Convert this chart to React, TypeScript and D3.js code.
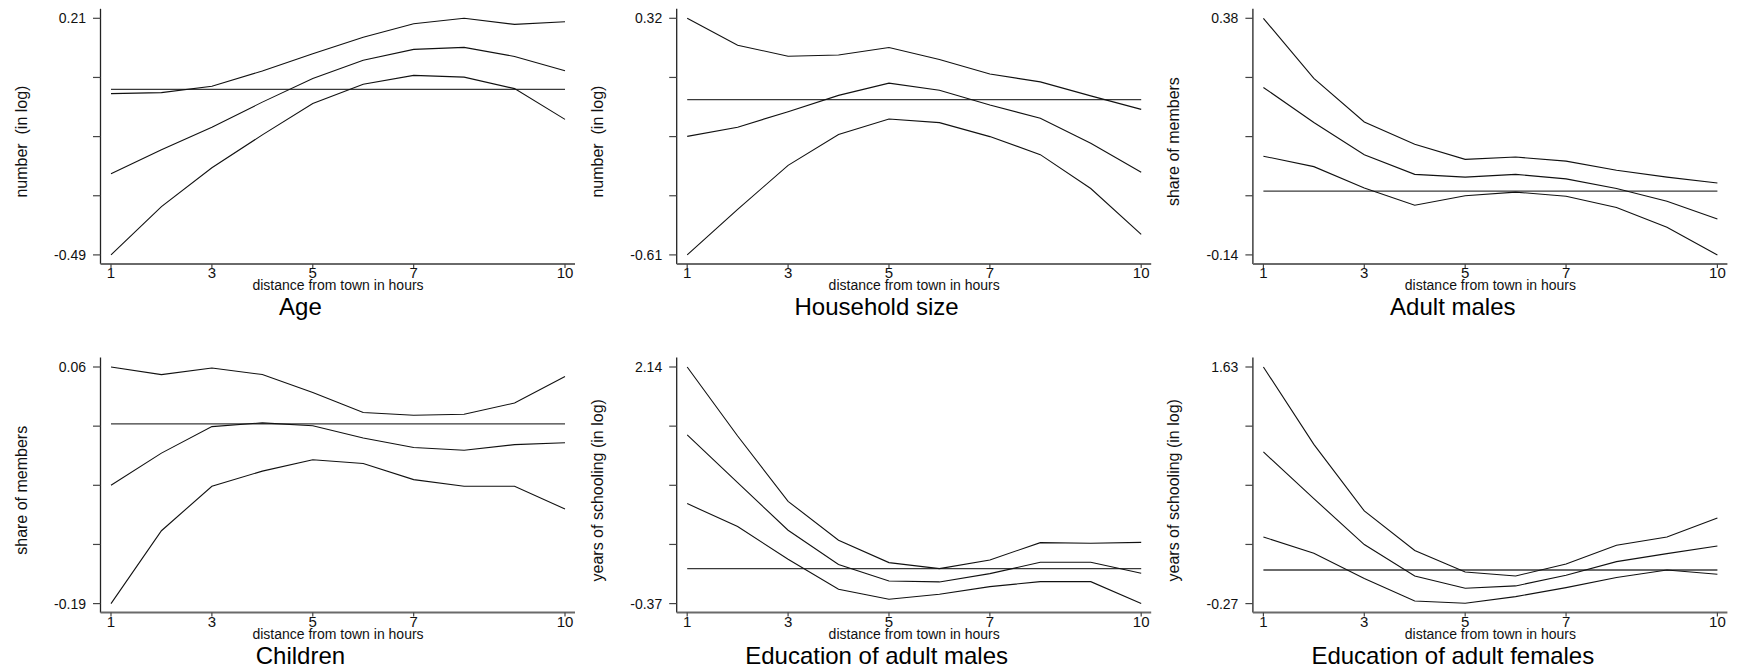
import React, { useEffect } from "react";
import * as d3 from "d3";

// ---------- DATA ----------
const distance = [1, 2, 3, 4, 5, 6, 7, 8, 9, 10];
const xTickValues = [1, 3, 5, 7, 10];
const xAxisTitle = "distance from town in hours";

const ageUpper = [-0.013, -0.010, 0.009, 0.054, 0.105, 0.154, 0.194, 0.210, 0.192, 0.200];
const ageEstimate = [-0.250, -0.179, -0.112, -0.038, 0.032, 0.086, 0.118, 0.124, 0.097, 0.055];
const ageLower = [-0.490, -0.347, -0.232, -0.135, -0.042, 0.015, 0.041, 0.036, 0.002, -0.089];

const hhUpper = [0.320, 0.214, 0.171, 0.176, 0.205, 0.158, 0.101, 0.070, 0.015, -0.038];
const hhEstimate = [-0.144, -0.108, -0.047, 0.017, 0.065, 0.037, -0.021, -0.073, -0.171, -0.285];
const hhLower = [-0.610, -0.431, -0.258, -0.137, -0.076, -0.090, -0.145, -0.216, -0.349, -0.529];

const amUpper = [0.380, 0.248, 0.152, 0.103, 0.070, 0.075, 0.066, 0.046, 0.031, 0.018];
const amEstimate = [0.228, 0.151, 0.080, 0.037, 0.031, 0.037, 0.027, 0.006, -0.022, -0.061];
const amLower = [0.077, 0.054, 0.007, -0.031, -0.010, -0.002, -0.011, -0.036, -0.079, -0.140];

const chUpper = [0.060, 0.052, 0.059, 0.052, 0.033, 0.012, 0.009, 0.010, 0.022, 0.050];
const chEstimate = [-0.065, -0.031, -0.003, 0.001, -0.002, -0.015, -0.025, -0.028, -0.022, -0.020];
const chLower = [-0.190, -0.113, -0.066, -0.050, -0.038, -0.042, -0.059, -0.066, -0.066, -0.090];

const emUpper = [2.140, 1.408, 0.715, 0.302, 0.065, 0.001, 0.093, 0.277, 0.270, 0.280];
const emEstimate = [1.419, 0.913, 0.408, 0.044, -0.130, -0.140, -0.052, 0.068, 0.068, -0.048];
const emLower = [0.691, 0.447, 0.100, -0.218, -0.324, -0.271, -0.190, -0.137, -0.137, -0.370];

const efUpper = [1.630, 1.009, 0.474, 0.156, -0.016, -0.048, 0.048, 0.198, 0.265, 0.418];
const efEstimate = [0.948, 0.573, 0.204, -0.048, -0.147, -0.128, -0.043, 0.067, 0.131, 0.193];
const efLower = [0.265, 0.134, -0.069, -0.249, -0.267, -0.214, -0.142, -0.061, 0.000, -0.034];

const panelTitles = ["Age", "Household size", "Adult males", "Children", "Education of adult males", "Education of adult females"];
const yAxisTitles = ["number  (in log)", "number  (in log)", "share of members", "share of members", "years of schooling (in log)", "years of schooling (in log)"];
const yMinLabels = ["-0.49", "-0.61", "-0.14", "-0.19", "-0.37", "-0.27"];
const yMaxLabels = ["0.21", "0.32", "0.38", "0.06", "2.14", "1.63"];
const referenceValue = 0;

const panelSeries = [
  [ageUpper, ageEstimate, ageLower],
  [hhUpper, hhEstimate, hhLower],
  [amUpper, amEstimate, amLower],
  [chUpper, chEstimate, chLower],
  [emUpper, emEstimate, emLower],
  [efUpper, efEstimate, efLower],
];

// ---------- LAYOUT ----------
const W = 1738;
const H = 672;
const FONT = "'Liberation Sans', Arial, Helvetica, sans-serif";
const COL_X0 = 111;
const COL_STEP = 576.2;
const PLOT_W = 454;
const ROW_Y0 = 18.3;
const ROW_STEP = 348.7;
const PLOT_H = 236.6;

function Panel({ idx }: { idx: number }) {
  const col = idx % 3;
  const row = Math.floor(idx / 3);
  const left = COL_X0 + col * COL_STEP;
  const top = ROW_Y0 + row * ROW_STEP;
  const bottom = top + PLOT_H;
  const yMin = parseFloat(yMinLabels[idx]);
  const yMax = parseFloat(yMaxLabels[idx]);

  const x = d3.scaleLinear().domain([1, 10]).range([left, left + PLOT_W]);
  const y = d3.scaleLinear().domain([yMin, yMax]).range([bottom, top]);

  const axisX = x(1) - 10.5;
  const axisY = bottom + 9;
  const axisTop = top - 9.5;
  const axisRight = x(10) + 10;

  const yTicks = d3.range(5).map((i) => yMin + (i * (yMax - yMin)) / 4);

  const line = d3
    .line<number>()
    .x((_, i) => x(distance[i]))
    .y((v) => y(v));

  const midY = (top + bottom) / 2 + 5;
  const ylabX = axisX - 79;

  return (
    <g>
      {/* reference line */}
      <line x1={x(1)} x2={x(10)} y1={y(referenceValue)} y2={y(referenceValue)} stroke="#3a3a3a" strokeWidth={1.3} />
      {panelSeries[idx].map((s, k) => (
        <path key={k} d={line(s) || ""} fill="none" stroke="#111" strokeWidth={1.1} />
      ))}
      {/* y axis */}
      <line x1={axisX} x2={axisX} y1={axisTop} y2={axisY} stroke="#222" strokeWidth={1.3} />
      {yTicks.map((t, i) => (
        <line key={i} x1={axisX - 7.5} x2={axisX} y1={y(t)} y2={y(t)} stroke="#444" strokeWidth={1.2} />
      ))}
      <text x={axisX - 14.5} y={y(yMax) + 5} textAnchor="end" fontSize={14} fontFamily={FONT} fill="#111">
        {yMaxLabels[idx]}
      </text>
      <text x={axisX - 14.5} y={y(yMin) + 5} textAnchor="end" fontSize={14} fontFamily={FONT} fill="#111">
        {yMinLabels[idx]}
      </text>
      <text
        transform={`translate(${ylabX},${midY}) rotate(-90)`}
        textAnchor="middle"
        dominantBaseline="central"
        fontSize={16}
        fontFamily={FONT}
        fill="#111"
        style={{ whiteSpace: "pre" }}
      >
        {yAxisTitles[idx]}
      </text>
      {/* x axis */}
      <line x1={axisX} x2={axisRight} y1={axisY} y2={axisY} stroke="#6a6a6a" strokeWidth={2} />
      {xTickValues.map((t) => (
        <g key={t}>
          <line x1={x(t)} x2={x(t)} y1={axisY} y2={axisY + 4} stroke="#444" strokeWidth={1.2} />
          <text x={x(t)} y={axisY + 14.5} textAnchor="middle" fontSize={15} fontFamily={FONT} fill="#111">
            {t}
          </text>
        </g>
      ))}
      <text x={(x(1) + x(10)) / 2} y={axisY + 26.5} textAnchor="middle" fontSize={14} fontFamily={FONT} fill="#111">
        {xAxisTitle}
      </text>
      <text x={(x(1) + x(10)) / 2 - 37.6} y={axisY + 51} textAnchor="middle" fontSize={24} fontFamily={FONT} fill="#000">
        {panelTitles[idx]}
      </text>
    </g>
  );
}

export default function App() {
  useEffect(() => {
    document.body.style.margin = "0";
    document.body.style.overflow = "hidden";
  }, []);
  return (
    <svg width={W} height={H} style={{ position: "absolute", left: 0, top: 0, background: "#fff" }}>
      <rect x={0} y={0} width={W} height={H} fill="#fff" />
      {panelTitles.map((_, i) => (
        <Panel key={i} idx={i} />
      ))}
    </svg>
  );
}
